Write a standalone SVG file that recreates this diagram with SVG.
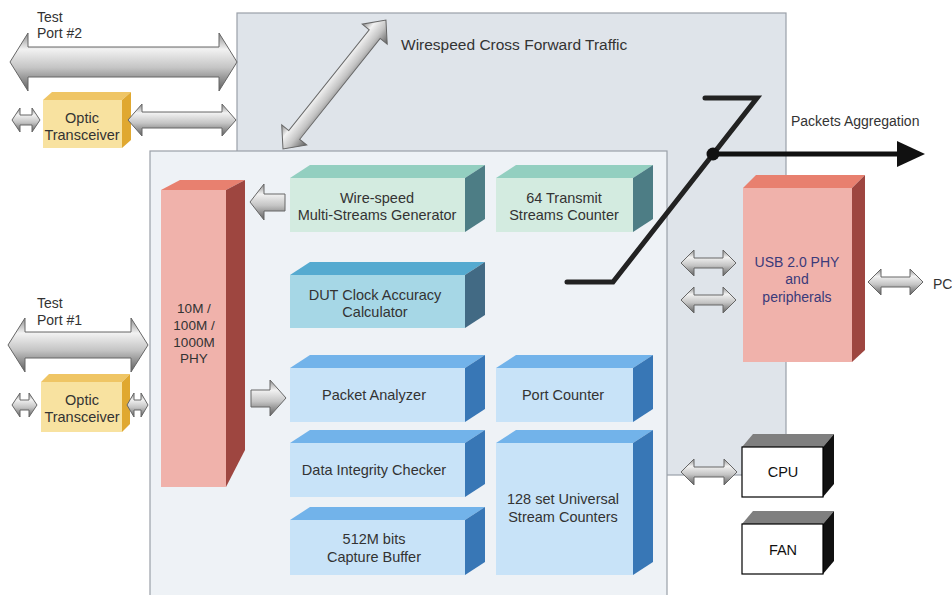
<svg xmlns="http://www.w3.org/2000/svg" width="952" height="595" viewBox="0 0 952 595">
<defs>
<linearGradient id="ag" x1="0" y1="0" x2="0" y2="1">
<stop offset="0" stop-color="#8c8c8c"/>
<stop offset="0.28" stop-color="#f2f2f2"/>
<stop offset="0.6" stop-color="#c4c4c4"/>
<stop offset="1" stop-color="#5e5e5e"/>
</linearGradient>
<style>
.arr{fill:url(#ag);stroke:#666;stroke-width:1}
.t{font-family:"Liberation Sans",Arial,sans-serif;font-size:14.5px;fill:#333;text-anchor:middle}
.tl{font-family:"Liberation Sans",Arial,sans-serif;font-size:14px;fill:#333}
.gf{fill:#d3ebe0}.gt{fill:#93cfc0}.gr{fill:#4d7d85}
.df{fill:#a6d7e6}.dt{fill:#55aad0}.dr{fill:#426a84}
.bf{fill:#c8e3f8}.bt{fill:#72b3ea}.br{fill:#3877b6}
.pf{fill:#f0b2ab}.pt{fill:#e8806f}.pr{fill:#9e4640}
.of{fill:#f8e2a0}.ot{fill:#efc565}.or{fill:#e0a830}
.cf{fill:#fff;stroke:#000;stroke-width:1.2}.ct{fill:#7f7f7f}.cr{fill:#111}
.zl{fill:none;stroke:#222;stroke-width:5;stroke-linejoin:miter;stroke-linecap:round}
</style>
</defs>
<rect width="952" height="595" fill="#fff"/>

<g id="back-panel">
<rect x="237" y="13" width="549" height="462" fill="#dfe4ea" stroke="#9aa0a8" stroke-width="1.2"/>
</g>
<g id="inner-panel">
<rect x="150" y="151" width="517" height="460" fill="#eef2f6" stroke="#9aa0a8" stroke-width="1.2"/>
</g>

<g id="labels">
<text class="tl" x="37" y="22">Test</text>
<text class="tl" x="37" y="38">Port #2</text>
<text class="tl" x="37" y="308">Test</text>
<text class="tl" x="37" y="325">Port #1</text>
<text class="tl" x="401" y="50" style="font-size:15.5px">Wirespeed Cross Forward Traffic</text>
<text class="tl" x="791" y="126">Packets Aggregation</text>
<text class="tl" x="933" y="289">PC</text>
</g>

<g id="optic-top">
<polygon class="ot" points="43,100 52,92 131,92 122,100"/>
<polygon class="or" points="122,100 131,92 131,140 122,148"/>
<rect class="of" x="43" y="100" width="79" height="48"/>
<text class="t" x="82" y="123">Optic</text>
<text class="t" x="82" y="140">Transceiver</text>
</g>
<g id="optic-bottom">
<polygon class="ot" points="41,382 49,374 130,374 122,382"/>
<polygon class="or" points="122,382 130,374 130,424 122,432"/>
<rect class="of" x="41" y="382" width="81" height="50"/>
<text class="t" x="82" y="405">Optic</text>
<text class="t" x="82" y="422">Transceiver</text>
</g>

<g id="phy">
<polygon class="pt" points="161,190 180,180 245,180 226,190"/>
<polygon class="pr" points="226,190 245,180 245,450 226,487"/>
<rect class="pf" x="161" y="190" width="65" height="297"/>
<text class="t" x="194" y="313" style="font-size:13.5px">10M /</text>
<text class="t" x="194" y="330" style="font-size:13.5px">100M /</text>
<text class="t" x="194" y="347" style="font-size:13.5px">1000M</text>
<text class="t" x="194" y="363" style="font-size:13.5px">PHY</text>
</g>

<g id="generator">
<polygon class="gt" points="290,178 310,165 485,165 465,178"/>
<polygon class="gr" points="465,178 485,165 485,219 465,232"/>
<rect class="gf" x="290" y="178" width="175" height="54"/>
<text class="t" x="377" y="203">Wire-speed</text>
<text class="t" x="377" y="220">Multi-Streams Generator</text>
</g>
<g id="tx-counter">
<polygon class="gt" points="496,178 516,165 653,165 633,178"/>
<polygon class="gr" points="633,178 653,165 653,219 633,232"/>
<rect class="gf" x="496" y="178" width="137" height="54"/>
<text class="t" x="564" y="203">64 Transmit</text>
<text class="t" x="564" y="220">Streams Counter</text>
</g>
<g id="dut-clock">
<polygon class="dt" points="290,275 310,262 485,262 465,275"/>
<polygon class="dr" points="465,275 485,262 485,315 465,328"/>
<rect class="df" x="290" y="275" width="175" height="53"/>
<text class="t" x="375" y="300">DUT Clock Accuracy</text>
<text class="t" x="375" y="317">Calculator</text>
</g>
<g id="packet-analyzer">
<polygon class="bt" points="290,368 310,355 485,355 465,368"/>
<polygon class="br" points="465,368 485,355 485,409 465,422"/>
<rect class="bf" x="290" y="368" width="175" height="54"/>
<text class="t" x="374" y="400">Packet Analyzer</text>
</g>
<g id="port-counter">
<polygon class="bt" points="496,368 516,355 653,355 633,368"/>
<polygon class="br" points="633,368 653,355 653,409 633,422"/>
<rect class="bf" x="496" y="368" width="137" height="54"/>
<text class="t" x="563" y="400">Port Counter</text>
</g>
<g id="data-integrity">
<polygon class="bt" points="290,443 310,430 485,430 465,443"/>
<polygon class="br" points="465,443 485,430 485,484 465,497"/>
<rect class="bf" x="290" y="443" width="175" height="54"/>
<text class="t" x="374" y="475">Data Integrity Checker</text>
</g>
<g id="capture-buffer">
<polygon class="bt" points="290,520 310,507 485,507 465,520"/>
<polygon class="br" points="465,520 485,507 485,562 465,575"/>
<rect class="bf" x="290" y="520" width="175" height="55"/>
<text class="t" x="374" y="544">512M bits</text>
<text class="t" x="374" y="562">Capture Buffer</text>
</g>
<g id="stream-counters">
<polygon class="bt" points="496,443 516,430 653,430 633,443"/>
<polygon class="br" points="633,443 653,430 653,562 633,575"/>
<rect class="bf" x="496" y="443" width="137" height="132"/>
<text class="t" x="563" y="504">128 set Universal</text>
<text class="t" x="563" y="522">Stream Counters</text>
</g>

<g id="usb">
<polygon class="pt" points="743,188 756,175 865,175 852,188"/>
<polygon class="pr" points="852,188 865,175 865,350 852,362"/>
<rect class="pf" x="743" y="188" width="109" height="174"/>
<text class="t" x="797" y="267" style="fill:#3a3a7a;font-size:14px">USB 2.0 PHY</text>
<text class="t" x="797" y="284" style="fill:#3a3a7a;font-size:14px">and</text>
<text class="t" x="797" y="302" style="fill:#3a3a7a;font-size:14px">peripherals</text>
</g>
<g id="cpu">
<polygon class="ct" points="742,447 753,434 834,434 823,447"/>
<polygon class="cr" points="823,447 834,434 834,484 823,497"/>
<rect class="cf" x="742" y="447" width="81" height="50"/>
<text class="t" x="783" y="477" style="fill:#111">CPU</text>
</g>
<g id="fan">
<polygon class="ct" points="742,524 753,511 834,511 823,524"/>
<polygon class="cr" points="823,524 834,511 834,561 823,574"/>
<rect class="cf" x="742" y="524" width="81" height="50"/>
<text class="t" x="783" y="555" style="fill:#111">FAN</text>
</g>

<g id="connectors">
<path class="arr" d="M10,62 L28,33 L28,47 L219,47 L219,33 L237,62 L219,91 L219,77 L28,77 L28,91 Z"/>
<path class="arr" d="M12,120 L20,108 L20,115 L32,115 L32,108 L40,120 L32,132 L32,125 L20,125 L20,132 Z"/>
<path class="arr" d="M128,120 L142,104 L142,112 L222,112 L222,104 L236,120 L222,136 L222,128 L142,128 L142,136 Z"/>
<path class="arr" d="M8,345 L25,318 L25,332 L131,332 L131,318 L148,345 L131,372 L131,358 L25,358 L25,372 Z"/>
<path class="arr" d="M12,405 L20,393 L20,400 L29,400 L29,393 L37,405 L29,417 L29,410 L20,410 L20,417 Z"/>
<path class="arr" d="M127,405 L134,393 L134,400 L141,400 L141,393 L148,405 L141,417 L141,410 L134,410 L134,417 Z"/>
<path class="arr" transform="translate(283,149) rotate(-51.4)" d="M0,0 L18,-16 L18,-7 L147,-7 L147,-16 L165,0 L147,16 L147,7 L18,7 L18,16 Z"/>
<path class="arr" d="M250,202 L264,184 L264,194 L285,194 L285,211 L264,211 L264,220 Z"/>
<path class="arr" d="M286,398 L270,380 L270,390 L251,390 L251,407 L270,407 L270,416 Z"/>
<path class="arr" d="M681,263 L694,250 L694,258 L723,258 L723,250 L736,263 L723,276 L723,268 L694,268 L694,276 Z"/>
<path class="arr" d="M681,300 L694,287 L694,295 L723,295 L723,287 L736,300 L723,313 L723,305 L694,305 L694,313 Z"/>
<path class="arr" d="M868,282 L881,269 L881,277 L910,277 L910,269 L923,282 L910,295 L910,287 L881,287 L881,295 Z"/>
<path class="arr" d="M681,472 L694,459 L694,467 L724,467 L724,459 L737,472 L724,485 L724,477 L694,477 L694,485 Z"/>
<polyline class="zl" points="567,282 613,282 757,98 705,98"/>
<line x1="713" y1="154" x2="900" y2="154" stroke="#111" stroke-width="5"/>
<polygon points="897,141 925,154 897,167" fill="#111"/>
<circle cx="713" cy="154" r="6.5" fill="#111"/>
</g>
</svg>
